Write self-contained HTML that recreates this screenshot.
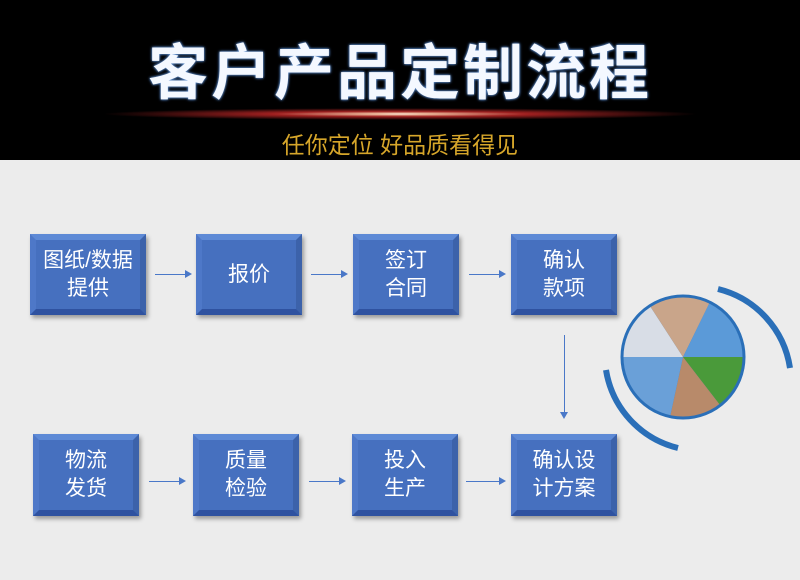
<!DOCTYPE html>
<html><head><meta charset="utf-8"><style>
body{margin:0;width:800px;height:580px;overflow:hidden;background:#ececec;font-family:"Liberation Sans","Noto Sans CJK SC",sans-serif;position:relative}
.hd{position:absolute;left:0;top:0;width:800px;height:160px;background:#000}
.t{position:absolute;left:0;width:800px;text-align:center;top:25px;font-size:60px;font-weight:bold;color:#f4f8ff;letter-spacing:3px;text-shadow:0 0 2px #6a9ad8,0 0 3px #4a7ac0}
.glow{position:absolute;left:100px;top:108px;width:600px;height:12px;background:radial-gradient(ellipse at center,#fff 0%,#f0c0a0 6%,#a02020 30%,rgba(80,0,0,0) 70%)}
.s{position:absolute;left:0;width:800px;text-align:center;top:126px;font-size:23px;color:#d6a62a}
.b{position:absolute;box-sizing:border-box;background:#4670bf;border:6px solid;border-color:#5e8ad6 #3c62aa #2f52a0 #4e78c8;box-shadow:2px 3px 4px rgba(0,0,0,.35);color:#fff;font-size:21px;line-height:28px;display:flex;align-items:center;justify-content:center;text-align:center}
.a{position:absolute;height:1px;background:#4a78c8}
.a:after{content:"";position:absolute;right:-2px;top:-4px;border-left:7px solid #4a78c8;border-top:4.5px solid transparent;border-bottom:4.5px solid transparent}
</style></head><body>
<div class="hd"></div>
<div class="t">客户产品定制流程</div>
<div class="glow"></div>
<div class="s">任你定位 好品质看得见</div>
<div class="b" style="left:30px;top:234px;width:116px;height:81px">图纸/数据<br>提供</div>
<div class="b" style="left:196px;top:234px;width:106px;height:81px">报价</div>
<div class="b" style="left:353px;top:234px;width:106px;height:81px">签订<br>合同</div>
<div class="b" style="left:511px;top:234px;width:106px;height:81px">确认<br>款项</div>
<div class="b" style="left:33px;top:434px;width:106px;height:82px">物流<br>发货</div>
<div class="b" style="left:193px;top:434px;width:106px;height:82px">质量<br>检验</div>
<div class="b" style="left:352px;top:434px;width:106px;height:82px">投入<br>生产</div>
<div class="b" style="left:511px;top:434px;width:106px;height:82px">确认设<br>计方案</div>
<div class="a" style="left:155px;top:274px;width:35px"></div>
<div class="a" style="left:311px;top:274px;width:35px"></div>
<div class="a" style="left:469px;top:274px;width:35px"></div>
<div class="a" style="left:149px;top:481px;width:35px"></div>
<div class="a" style="left:309px;top:481px;width:35px"></div>
<div class="a" style="left:466px;top:481px;width:38px"></div>
<div style="position:absolute;left:564px;top:335px;width:1px;height:80px;background:#4a78c8"></div>
<div style="position:absolute;left:560px;top:412px;border-top:7px solid #4a78c8;border-left:4.5px solid transparent;border-right:4.5px solid transparent"></div>
<svg style="position:absolute;left:0;top:0" width="800" height="580">
<path d="M718 289 A96 96 0 0 1 790 368" fill="none" stroke="#2a6fb8" stroke-width="6"/>
<path d="M606 370 A96 96 0 0 0 678 448" fill="none" stroke="#2a6fb8" stroke-width="6"/>
<circle cx="683" cy="357" r="61" fill="#3d78b8"/>
<path d="M683 357 L622 357 A61 61 0 0 1 650 306Z" fill="#d8dde6"/>
<path d="M683 357 L650 306 A61 61 0 0 1 710 302Z" fill="#c9a58a"/>
<path d="M683 357 L710 302 A61 61 0 0 1 744 357Z" fill="#5b9ad8"/>
<path d="M683 357 L744 357 A61 61 0 0 1 720 405Z" fill="#4a9a3a"/>
<path d="M683 357 L720 405 A61 61 0 0 1 670 417Z" fill="#b88a6a"/>
<path d="M683 357 L670 417 A61 61 0 0 1 622 357Z" fill="#6aa0d8"/>
<circle cx="683" cy="357" r="61" fill="none" stroke="#2a6fb8" stroke-width="3"/>
</svg>
</body></html>
